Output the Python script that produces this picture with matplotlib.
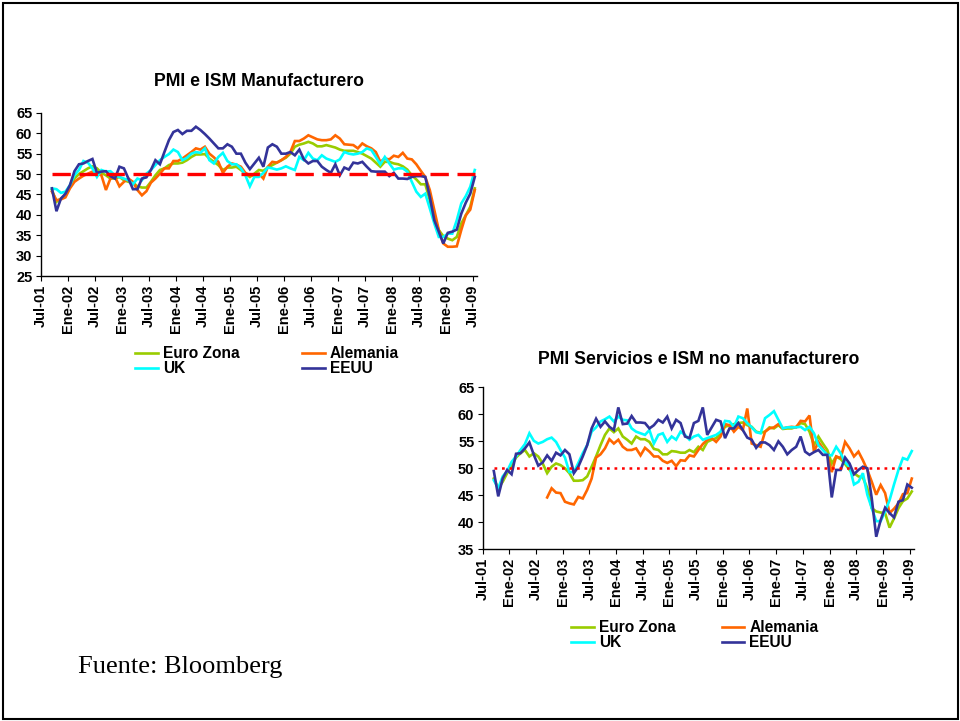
import matplotlib
matplotlib.use("Agg")
import matplotlib.pyplot as plt
from matplotlib.patches import Rectangle
import numpy as np

# Month index: 0 = Jul-01 ... 96 = Jul-09 ; data from Sep-01 (2) to Jul-09 (96)
tick_labels = ["Jul-01", "Ene-02", "Jul-02", "Ene-03", "Jul-03", "Ene-04", "Jul-04",
               "Ene-05", "Jul-05", "Ene-06", "Jul-06", "Ene-07", "Jul-07", "Ene-08",
               "Jul-08", "Ene-09", "Jul-09"]
months = list(range(2, 97))

# ---- PMI manufacturero ----
man_euro = [46.1, 43.2, 44.0, 44.8, 46.9, 48.9, 50.0, 50.7, 51.4, 51.9, 51.4, 50.3, 49.7, 48.9,
            48.9, 49.3, 48.5, 48.1, 47.9, 47.0, 46.7, 46.7, 48.1, 49.7, 51.0, 51.4, 52.2, 52.6,
            52.6, 52.8, 53.4, 54.2, 54.8, 54.8, 54.9, 53.8, 53.0, 52.2, 51.0, 51.6, 51.6, 51.8,
            51.0, 50.1, 49.3, 50.1, 51.0, 50.8, 51.6, 52.2, 52.8, 53.4, 54.0, 55.0, 56.7, 57.2,
            57.5, 57.9, 57.5, 56.8, 56.8, 57.1, 56.8, 56.5, 56.0, 55.7, 55.7, 55.7, 55.4, 55.0,
            54.4, 53.8, 52.8, 51.8, 53.0, 53.0, 52.6, 52.4, 51.9, 51.1, 49.7, 48.7, 47.5, 47.5,
            43.6, 39.1, 36.3, 34.8, 34.2, 33.8, 34.6, 37.9, 39.9, 42.0, 46.5]
man_ger = [45.7, 43.6, 43.8, 44.3, 46.5, 48.1, 48.9, 49.6, 50.1, 50.6, 50.1, 49.7, 46.1, 48.9,
           49.3, 47.0, 48.1, 48.9, 48.1, 46.1, 44.8, 45.8, 47.9, 48.9, 50.1, 51.4, 51.4, 53.2,
           53.2, 53.8, 54.6, 55.4, 56.3, 56.0, 56.7, 55.0, 54.1, 53.0, 50.3, 51.8, 52.6, 52.3,
           51.8, 50.3, 49.7, 49.7, 50.1, 48.9, 51.8, 53.0, 52.8, 53.4, 54.2, 55.4, 58.1, 58.1,
           58.7, 59.5, 59.0, 58.5, 58.3, 58.3, 58.5, 59.5, 58.7, 57.3, 57.2, 57.1, 56.3, 57.5,
           56.8, 56.3, 55.4, 53.0, 53.8, 53.6, 54.5, 54.2, 55.2, 53.8, 53.6, 52.4, 50.8, 49.3,
           46.1, 41.2, 36.3, 33.0, 32.2, 32.2, 32.3, 36.3, 39.9, 41.3, 46.1]
man_uk = [46.5, 46.3, 45.4, 45.7, 47.3, 49.7, 51.0, 53.2, 52.8, 51.4, 49.3, 51.0, 50.6, 50.7,
          49.7, 49.3, 48.9, 48.5, 47.5, 48.9, 48.5, 50.1, 51.0, 52.2, 53.4, 54.2, 54.9, 56.0,
          55.4, 53.4, 54.0, 55.0, 55.4, 55.2, 56.3, 53.4, 52.6, 54.2, 55.2, 53.2, 52.4, 52.4,
          51.4, 49.7, 47.0, 49.3, 49.3, 50.3, 51.6, 51.4, 51.1, 51.4, 51.9, 51.4, 51.0, 54.2,
          53.4, 55.2, 53.8, 53.4, 54.6, 53.8, 53.4, 53.0, 53.6, 55.4, 55.0, 54.8, 55.0, 55.4,
          56.3, 55.9, 54.2, 52.4, 54.2, 52.6, 51.1, 51.4, 51.4, 50.6, 48.1, 45.7, 44.4, 45.2,
          41.6, 37.9, 34.6, 34.6, 35.4, 35.4, 38.7, 42.8, 44.6, 46.9, 51.0]
man_us = [46.5, 40.9, 44.0, 45.2, 47.3, 50.7, 52.4, 52.6, 53.2, 53.7, 50.3, 50.6, 50.7, 49.5,
          48.9, 51.8, 51.4, 48.9, 46.3, 46.3, 48.9, 49.2, 51.0, 53.4, 52.4, 55.4, 58.3, 60.3,
          60.8, 59.8, 60.6, 60.6, 61.6, 60.8, 59.8, 58.7, 57.5, 56.3, 56.3, 57.3, 56.7, 55.0,
          55.0, 52.8, 51.2, 52.6, 54.0, 51.8, 56.5, 57.3, 56.7, 55.0, 55.0, 55.4, 54.6, 56.0,
          53.6, 52.6, 53.2, 53.2, 51.8, 51.0, 50.3, 52.4, 49.7, 51.6, 51.1, 52.8, 52.6, 53.0,
          51.8, 50.7, 50.6, 50.6, 50.6, 49.5, 50.3, 48.9, 48.9, 48.8, 49.3, 49.5, 49.5, 49.3,
          44.4, 38.7, 35.9, 33.0, 35.6, 35.9, 36.4, 40.3, 43.0, 45.2, 49.3]

# ---- PMI servicios ----
ser_euro = [48.1, 46.3, 47.5, 49.1, 50.6, 52.0, 52.8, 53.4, 52.2, 52.8, 52.2, 50.9, 49.1, 50.3,
            50.9, 50.6, 50.0, 49.1, 47.7, 47.7, 47.8, 48.5, 50.3, 52.2, 54.3, 56.2, 57.4, 56.7,
            57.4, 55.9, 55.3, 54.6, 55.9, 55.4, 55.4, 54.9, 53.6, 53.4, 52.6, 52.6, 53.2, 53.1,
            52.9, 52.9, 53.4, 53.0, 54.0, 53.4, 54.9, 55.3, 55.6, 56.5, 57.7, 58.0, 58.2, 58.4,
            58.5, 58.0, 57.7, 56.8, 56.6, 56.8, 57.6, 57.4, 58.0, 57.3, 57.4, 57.4, 57.7, 58.4,
            58.2, 56.8, 54.3, 55.9, 54.6, 53.4, 50.9, 52.2, 51.7, 50.8, 49.7, 49.1, 48.5, 48.3,
            46.3, 42.6, 42.0, 41.8, 41.7, 39.0, 40.7, 42.6, 43.9, 44.4, 45.7]
ser_ger = [None] * 12 + [
           44.6, 46.3, 45.5, 45.4, 43.8, 43.5, 43.3, 44.7, 44.4, 46.0, 48.1, 52.0, 52.6, 53.7,
           55.4, 54.6, 55.3, 54.0, 53.4, 53.4, 53.7, 52.4, 53.8, 53.1, 52.2, 52.2, 51.4, 51.0,
           51.4, 50.4, 51.5, 51.4, 52.4, 52.2, 53.4, 54.5, 55.3, 55.6, 54.9, 55.9, 58.2, 58.0,
           56.8, 57.7, 57.1, 61.1, 54.6, 54.3, 54.0, 56.8, 57.4, 57.6, 58.2, 57.4, 57.6, 57.7,
           57.6, 58.8, 58.7, 59.8, 53.1, 54.9, 53.7, 52.5, 49.3, 52.2, 51.9, 54.9, 53.7, 52.2,
           53.1, 51.5, 49.7, 47.5, 45.1, 46.9, 45.4, 41.7, 42.5, 43.5, 45.2, 45.4, 48.1]
ser_uk = [47.8, 46.3, 48.5, 49.5, 51.2, 52.2, 53.4, 54.5, 56.5, 55.1, 54.6, 54.9, 55.4, 55.7,
          54.9, 53.4, 52.0, 49.3, 49.3, 51.0, 52.8, 54.3, 56.8, 57.6, 58.7, 59.1, 59.6, 58.7,
          59.6, 59.0, 58.9, 57.4, 56.8, 56.5, 56.2, 57.1, 54.6, 56.2, 56.5, 54.9, 55.9, 55.3,
          56.8, 56.2, 55.3, 55.9, 56.2, 55.3, 55.6, 55.9, 56.2, 56.8, 58.8, 58.7, 57.7, 59.6,
          59.3, 58.4, 57.6, 56.7, 56.5, 59.3, 59.9, 60.6, 59.0, 57.4, 57.6, 57.6, 57.6, 57.7,
          57.1, 57.7, 56.5, 54.3, 53.4, 52.5, 52.4, 54.0, 52.8, 51.1, 50.3, 47.0, 47.5, 49.1,
          45.1, 42.6, 40.2, 40.2, 42.0, 44.1, 47.0, 49.7, 51.9, 51.6, 53.2]
ser_us = [49.5, 44.8, 48.1, 49.7, 48.9, 52.7, 52.8, 53.7, 54.8, 52.5, 50.5, 51.1, 52.4, 51.4,
          52.9, 52.4, 53.4, 52.6, 49.1, 50.3, 52.2, 54.3, 57.4, 59.2, 57.7, 58.7, 57.7, 57.1,
          61.3, 58.2, 58.3, 59.7, 58.5, 58.5, 58.4, 57.4, 58.0, 59.0, 58.5, 59.6, 57.4, 59.0,
          58.4, 55.9, 55.6, 58.4, 58.8, 61.3, 56.2, 57.6, 59.0, 58.7, 55.6, 57.4, 57.4, 58.4,
          57.1, 55.7, 55.3, 53.8, 54.8, 54.8, 54.3, 53.4, 55.0, 54.0, 52.6, 53.4, 54.0, 55.9,
          53.1, 52.5, 53.0, 53.4, 52.5, 52.5, 44.6, 49.7, 49.7, 52.0, 50.9, 48.9, 49.7, 50.3,
          50.0, 44.4, 37.3, 40.4, 42.7, 41.7, 40.9, 43.8, 44.1, 47.0, 46.4]

names = ["Euro Zona", "Alemania", "UK", "EEUU"]
colors = ["#99CC00", "#FF6600", "#00FFFF", "#333399"]

plt.rcParams['font.family'] = ['Liberation Sans', 'DejaVu Sans']

fig = plt.figure(figsize=(9.6, 7.21), dpi=100)

def make_panel(rect, series, ylim, yticks, title, ref_style, leg_xy, title_pad, colsp):
    ax = fig.add_axes(rect)
    x = np.array(months) + 0.5
    lines = []
    for vals, c, n in zip(series, colors, names):
        v = np.array([np.nan if a is None else a for a in vals], dtype=float)
        ln, = ax.plot(x, v, color=c, lw=1.9, label=n, solid_joinstyle='miter')
        lines.append(ln)
    ref = np.full(len(x), 50.0)
    if ref_style == 'dash':
        ax.plot(x, ref, color='#FF0000', lw=2.4, dashes=(5.5, 2.6), zorder=5)
    else:
        ax.plot(x, ref, color='#FF0000', lw=1.8, dashes=(1.1, 1.9), zorder=5)
    ax.set_xlim(0, 97)
    ax.set_ylim(*ylim)
    ax.set_yticks(yticks)
    ax.set_yticklabels([str(t) for t in yticks], fontweight='bold', fontsize=10.5)
    ax.set_xticks(np.arange(0, 97, 6))
    ax.set_xticklabels(tick_labels, rotation=90, fontweight='bold', fontsize=10.5)
    for s in ['top', 'right']:
        ax.spines[s].set_visible(False)
    for s in ['left', 'bottom']:
        ax.spines[s].set_linewidth(1.0)
        ax.spines[s].set_color('black')
    ax.tick_params(axis='both', direction='out', length=3.5, width=0.8, pad=2.5)
    ax.set_title(title, fontweight='bold', fontsize=12.7, pad=title_pad)
    handles = [lines[0], lines[2], lines[1], lines[3]]
    labels = [names[0], names[2], names[1], names[3]]
    fig.legend(handles, labels, ncol=2, loc='center',
               bbox_to_anchor=leg_xy,
               frameon=False, prop={'weight': 'bold', 'size': 11.2},
               handlelength=1.45, handletextpad=0.3, columnspacing=colsp,
               labelspacing=0.0, borderpad=0)
    return ax

ax1 = make_panel([0.0424, 0.617, 0.4545, 0.2265],
                 [man_euro, man_ger, man_uk, man_us], (25, 65), list(range(25, 66, 5)),
                 "PMI e ISM Manufacturero", 'dash', (0.2782, 0.4987), 19, 4.05)
ax2 = make_panel([0.5028, 0.2383, 0.4493, 0.2243],
                 [ser_euro, ser_ger, ser_uk, ser_us], (35, 65), list(range(35, 66, 5)),
                 "PMI Servicios e ISM no manufacturero", 'dot', (0.7238, 0.1187), 17, 3.0)

fig.text(78 / 960, 1 - 667 / 721, "Fuente: Bloomberg", family=['Liberation Serif', 'DejaVu Serif'],
         fontsize=19, ha='left', va='center')

fig.patches.append(Rectangle((2.5 / 960, 2.5 / 721), 955 / 960, 716 / 721,
                             transform=fig.transFigure, fill=False, edgecolor='black',
                             lw=1.5))

fig.savefig("out.png", dpi=100)
